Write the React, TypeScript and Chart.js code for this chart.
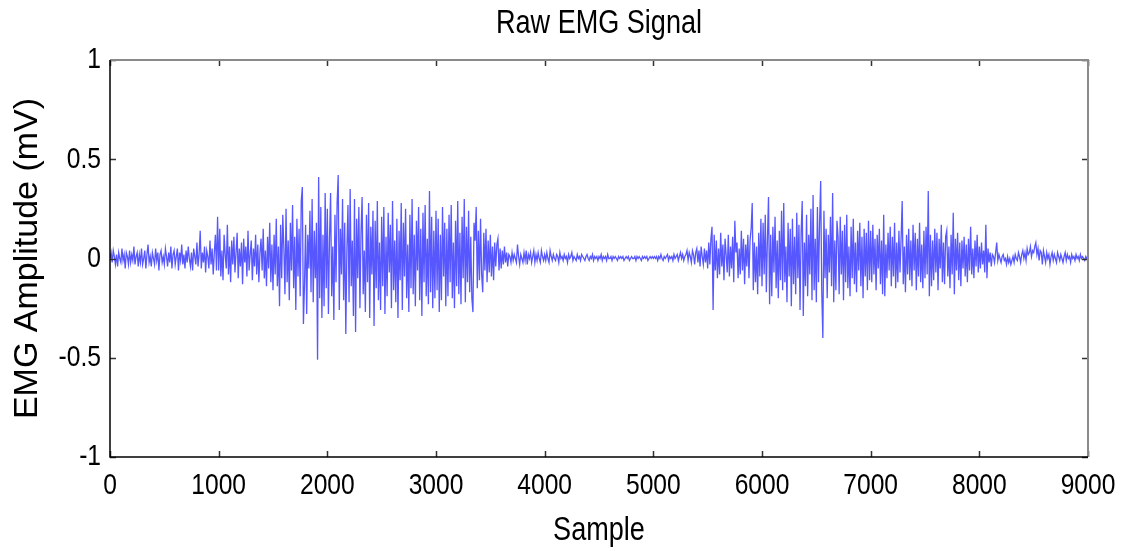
import React, { useEffect, useRef } from "react";
import { Chart, registerables } from "chart.js";

Chart.register(...registerables);

// EMG samples, one value every SAMPLE_STEP samples,
// grouped in blocks of 500 samples.
const SAMPLE_STEP = 10;

const block0000 = [
  0.0, 0.03, -0.02, 0.04, 0.01, -0.03, 0.02, -0.04, 0.03, 0.0,
  -0.02, 0.05, -0.01, 0.02, -0.05, 0.03, 0.01, -0.03, 0.04, -0.02,
  0.02, -0.01, 0.06, -0.03, 0.01, 0.03, -0.04, 0.02, -0.02, 0.05,
  -0.03, 0.0, 0.04, -0.05, 0.02, 0.07, -0.02, 0.01, -0.04, 0.03,
  0.0, -0.03, 0.05, -0.01, 0.03, -0.06, 0.02, 0.04, -0.02, 0.01,
];
const block0500 = [
  -0.03, 0.05, 0.01, -0.04, 0.03, -0.02, 0.06, -0.05, 0.02, 0.04,
  -0.03, 0.01, 0.05, -0.06, 0.03, -0.01, 0.07, -0.03, 0.02, -0.05,
  0.04, -0.02, 0.06, 0.0, -0.04, 0.03, -0.06, 0.05, 0.01, -0.03,
  0.08, -0.04, 0.02, 0.14, -0.05, 0.03, -0.02, 0.06, -0.07, 0.04,
  0.01, -0.05, 0.09, -0.03, 0.05, -0.08, 0.03, 0.12, -0.06, 0.21,
];
const block1000 = [
  -0.06, 0.15, -0.09, 0.04, -0.11, 0.12, 0.02, -0.05, 0.17, -0.08,
  0.06, -0.12, 0.09, -0.03, 0.11, -0.07, 0.03, 0.13, -0.1, 0.05,
  -0.04, 0.08, -0.13, 0.1, -0.02, 0.06, -0.09, 0.14, -0.06, 0.02,
  0.09, -0.11, 0.05, -0.04, 0.12, -0.08, 0.07, -0.12, 0.03, 0.1,
  -0.06, 0.15, -0.1, 0.04, -0.14, 0.11, -0.05, 0.18, -0.12, 0.07,
];
const block1500 = [
  -0.16, 0.12, -0.08, 0.2, -0.14, 0.06, -0.24, 0.17, -0.1, 0.22,
  0.05, -0.18, 0.25, -0.12, 0.09, -0.21, 0.18, -0.06, 0.27, -0.15,
  0.11, -0.26, 0.2, -0.09, 0.15, -0.19, 0.29, 0.36, -0.33, -0.13,
  0.17, -0.28, 0.12, -0.05, 0.24, -0.17, 0.3, -0.22, 0.14, -0.1,
  0.18, -0.51, 0.41, -0.2, 0.26, -0.3, 0.12, -0.24, 0.33, -0.15,
];
const block2000 = [
  0.25, -0.28, 0.1, 0.33, -0.19, 0.06, -0.31, 0.22, -0.12, 0.28,
  0.42, -0.26, 0.15, -0.08, 0.3, -0.21, 0.18, -0.38, 0.05, 0.27,
  -0.22, 0.35, -0.14, 0.09, -0.29, 0.3, -0.37, 0.2, -0.1, 0.26,
  -0.25, 0.13, 0.31, -0.18, 0.04, -0.27, 0.22, -0.12, 0.28, -0.3,
  0.16, -0.08, 0.24, -0.34, 0.19, -0.15, 0.29, -0.21, 0.08, -0.26,
];
const block2500 = [
  0.21, -0.14, 0.26, -0.28, 0.11, -0.19, 0.23, -0.07, 0.17, -0.25,
  0.29, -0.16, 0.09, -0.22, 0.2, -0.3, 0.14, -0.11, 0.28, -0.26,
  0.18, -0.09, 0.25, -0.2, 0.07, -0.27, 0.22, -0.15, 0.3, -0.18,
  0.12, -0.24, 0.19, -0.06, 0.26, -0.21, 0.15, -0.29, 0.23, -0.12,
  0.27, -0.19, 0.1, -0.23, 0.34, -0.17, 0.21, -0.25, 0.14, -0.2,
];
const block3000 = [
  0.24, -0.16, 0.2, -0.27, 0.12, -0.21, 0.26, -0.09, 0.18, -0.24,
  0.15, -0.19, 0.22, -0.12, 0.27, -0.2, 0.08, -0.25, 0.19, -0.14,
  0.29, -0.18, 0.13, -0.23, 0.21, -0.1, 0.3, -0.22, 0.16, -0.12,
  0.24, -0.17, 0.11, -0.2, -0.27, 0.18, 0.09, 0.26, -0.15, 0.14,
  -0.11, 0.2, -0.08, -0.17, 0.13, -0.06, 0.15, -0.12, 0.09, -0.07,
];
const block3500 = [
  0.12, -0.09, 0.06, -0.11, 0.08, -0.04, 0.07, 0.1, -0.06, 0.05,
  -0.05, 0.04, -0.03, 0.06, -0.02, 0.03, -0.04, 0.02, 0.01, -0.02,
  0.03, -0.01, 0.02, 0.0, -0.02, 0.07, 0.01, -0.03, 0.02, 0.0,
  -0.02, 0.03, -0.01, 0.04, -0.03, 0.02, 0.0, 0.03, -0.02, 0.01,
  0.04, -0.02, 0.02, -0.01, 0.03, 0.0, -0.02, 0.04, 0.01, -0.01,
];
const block4000 = [
  0.02, -0.01, 0.03, 0.0, -0.02, 0.04, 0.01, -0.01, 0.02, 0.0,
  -0.01, 0.02, 0.01, -0.02, 0.03, 0.0, 0.01, -0.01, 0.02, 0.0,
  0.01, -0.02, 0.02, 0.0, 0.01, 0.03, -0.01, 0.01, 0.0, -0.01,
  0.02, 0.0, 0.01, -0.01, 0.02, 0.01, 0.0, -0.01, 0.01, 0.02,
  0.0, -0.01, 0.01, 0.0, 0.02, -0.01, 0.01, 0.0, 0.01, -0.01,
];
const block4500 = [
  0.01, 0.0, 0.02, -0.01, 0.01, 0.0, 0.01, -0.01, 0.02, 0.0,
  0.0, 0.01, -0.01, 0.01, 0.0, 0.01, 0.0, -0.01, 0.01, 0.0,
  0.01, 0.0, 0.01, -0.01, 0.0, 0.01, 0.0, 0.01, -0.01, 0.0,
  0.01, 0.0, 0.0, 0.01, -0.01, 0.01, 0.0, 0.01, 0.0, -0.01,
  0.01, 0.0, 0.01, 0.0, 0.01, -0.01, 0.0, 0.01, 0.0, 0.01,
];
const block5000 = [
  0.0, 0.01, 0.0, 0.01, -0.01, 0.01, 0.0, 0.02, 0.0, -0.01,
  0.01, 0.0, 0.01, 0.02, -0.01, 0.01, 0.0, 0.01, -0.01, 0.02,
  0.0, 0.01, 0.02, -0.01, 0.01, 0.03, 0.0, 0.02, -0.01, 0.01,
  0.02, 0.04, -0.01, 0.03, 0.01, -0.02, 0.04, 0.02, -0.03, 0.03,
  0.05, -0.02, 0.04, -0.04, 0.06, 0.01, -0.03, 0.05, -0.02, 0.04,
];
const block5500 = [
  -0.05, 0.08, -0.03, 0.1, 0.16, -0.26, 0.12, -0.06, 0.09, -0.1,
  0.05, -0.08, 0.13, -0.04, 0.07, -0.11, 0.1, 0.02, -0.07, 0.12,
  -0.09, 0.06, -0.05, 0.11, -0.12, 0.19, 0.03, 0.08, -0.1, 0.05,
  -0.08, 0.14, -0.06, 0.1, -0.13, 0.07, -0.04, 0.12, -0.1, 0.09,
  0.15, 0.28, -0.16, 0.08, -0.12, 0.06, -0.18, 0.13, -0.09, 0.2,
];
const block6000 = [
  -0.14, 0.18, -0.08, 0.22, -0.17, 0.1, 0.31, -0.23, 0.12, -0.19,
  0.16, -0.07, 0.21, -0.15, 0.09, -0.2, 0.14, -0.11, 0.24, -0.16,
  0.28, -0.12, 0.06, -0.22, 0.18, -0.09, 0.15, -0.24, 0.2, -0.13,
  0.11, -0.18, 0.23, -0.1, 0.17, -0.26, 0.13, 0.29, -0.29, 0.08,
  -0.14, 0.22, -0.19, 0.12, -0.08, 0.25, -0.21, 0.32, -0.16, 0.1,
];
const block6500 = [
  -0.22, 0.26, -0.12, 0.18, 0.39, -0.17, -0.4, 0.24, -0.1, 0.15,
  -0.2, 0.12, -0.07, 0.21, -0.14, 0.33, -0.22, 0.09, -0.16, 0.19,
  0.11, -0.18, 0.21, -0.08, 0.14, -0.21, 0.17, -0.12, 0.22, -0.15,
  0.06, -0.19, 0.16, -0.1, 0.2, -0.13, 0.08, -0.17, 0.14, -0.06,
  0.18, -0.14, 0.11, -0.2, 0.15, -0.09, 0.13, -0.16, 0.19, -0.11,
];
const block7000 = [
  0.14, -0.12, 0.17, -0.08, 0.1, -0.16, 0.12, -0.05, 0.15, -0.13,
  0.09, -0.18, 0.22, -0.19, 0.07, -0.1, 0.13, -0.06, 0.16, -0.14,
  0.11, -0.09, 0.18, -0.15, 0.08, -0.12, 0.14, -0.07, 0.1, 0.29,
  -0.13, 0.06, -0.17, 0.12, -0.08, 0.15, -0.11, 0.09, -0.14, 0.17,
  -0.06, 0.13, -0.16, 0.1, -0.09, 0.18, -0.12, 0.07, -0.15, 0.14,
];
const block7500 = [
  -0.1, 0.16, -0.08, 0.34, -0.19, 0.12, -0.14, 0.09, -0.11, 0.15,
  -0.07, 0.13, -0.16, 0.1, -0.05, 0.17, -0.12, 0.08, -0.13, 0.11,
  0.14, -0.09, 0.06, -0.15, 0.12, -0.08, 0.23, -0.18, 0.1, -0.06,
  0.13, -0.11, 0.08, -0.14, 0.09, -0.05, 0.11, -0.09, 0.07, -0.12,
  0.1, -0.06, 0.16, -0.08, 0.05, -0.1, 0.09, -0.04, 0.12, -0.07,
];
const block8000 = [
  0.06, -0.05, 0.08, -0.03, 0.04, -0.07, 0.17, -0.1, 0.05, -0.02,
  0.03, -0.04, 0.02, 0.01, -0.02, 0.03, 0.08, -0.01, 0.02, 0.0,
  -0.02, 0.01, 0.02, -0.01, 0.0, -0.03, 0.01, -0.02, 0.0, -0.03,
  -0.01, 0.01, -0.02, 0.02, 0.0, -0.01, 0.03, 0.01, -0.02, 0.02,
  0.04, 0.0, 0.03, -0.01, 0.05, 0.02, 0.03, 0.06, 0.01, 0.04,
];
const block8500 = [
  0.03, 0.06, 0.08, 0.02, 0.05, -0.01, 0.04, 0.03, -0.03, 0.04,
  0.01, -0.02, 0.03, 0.0, 0.02, -0.03, 0.01, 0.03, -0.01, 0.02,
  0.0, -0.02, 0.03, 0.01, -0.01, 0.02, 0.0, -0.02, 0.01, 0.03,
  -0.01, 0.02, 0.0, 0.01, -0.02, 0.02, 0.0, 0.01, -0.01, 0.02,
  0.0, 0.01, -0.01, 0.02, 0.0, 0.01, 0.0, -0.01, 0.01, 0.0,
];
const block9000 = [0.0];

const X_TICKS = [0, 1000, 2000, 3000, 4000, 5000, 6000, 7000, 8000, 9000];
const Y_TICKS = [-1, -0.5, 0, 0.5, 1];

const TITLE = "Raw EMG Signal";
const X_LABEL = "Sample";
const Y_LABEL = "EMG Amplitude (mV)";

const signal = [
  ...block0000, ...block0500, ...block1000, ...block1500, ...block2000,
  ...block2500, ...block3000, ...block3500, ...block4000, ...block4500,
  ...block5000, ...block5500, ...block6000, ...block6500, ...block7000,
  ...block7500, ...block8000, ...block8500, ...block9000,
];

const FONT = '"Liberation Sans", Arial, Helvetica, sans-serif';
const CONDENSE = 0.82;

// The reference uses a condensed Helvetica; squeeze horizontal text a little
// (rotated text such as the y-axis title is left alone).
const condensePlugin = {
  id: "condenseText",
  beforeDraw(chart: any) {
    const ctx: any = chart.ctx;
    if (ctx.__condensed) return;
    ctx.__condensed = true;
    const orig = ctx.fillText.bind(ctx);
    ctx.fillText = (text: string, x: number, y: number, maxWidth?: number) => {
      const t = ctx.getTransform();
      if (Math.abs(t.b) > 1e-6) {
        if (maxWidth === undefined) orig(text, x, y);
        else orig(text, x, y, maxWidth);
        return;
      }
      const w = ctx.measureText(text).width * CONDENSE;
      orig(text, x, y, maxWidth === undefined ? w : Math.min(w, maxWidth));
    };
  },
};

const boxPlugin = {
  id: "matlabBox",
  afterDatasetsDraw(chart: any) {
    const { ctx, chartArea, scales } = chart;
    const { left, right, top, bottom } = chartArea;
    const x = scales.x;
    const y = scales.y;
    ctx.save();
    const L = 6;
    ctx.strokeStyle = "#333";
    ctx.lineWidth = 1.5;
    for (const v of X_TICKS) {
      const px = Math.round(x.getPixelForValue(v)) + 0.5;
      ctx.beginPath();
      ctx.moveTo(px, bottom);
      ctx.lineTo(px, bottom - L);
      ctx.moveTo(px, top);
      ctx.lineTo(px, top + L);
      ctx.stroke();
    }
    for (const v of Y_TICKS) {
      const py = Math.round(y.getPixelForValue(v)) + 0.5;
      ctx.beginPath();
      ctx.moveTo(left, py);
      ctx.lineTo(left + L, py);
      ctx.moveTo(right, py);
      ctx.lineTo(right - L, py);
      ctx.stroke();
    }
    ctx.strokeStyle = "#8a8a8a";
    ctx.lineWidth = 2;
    ctx.beginPath();
    ctx.moveTo(left, top);
    ctx.lineTo(right, top);
    ctx.lineTo(right, bottom);
    ctx.stroke();
    ctx.strokeStyle = "#000";
    ctx.lineWidth = 1.5;
    ctx.beginPath();
    ctx.moveTo(left, top);
    ctx.lineTo(left, bottom);
    ctx.lineTo(right, bottom);
    ctx.stroke();
    ctx.restore();
  },
};

export default function App() {
  const canvasRef = useRef<HTMLCanvasElement | null>(null);

  useEffect(() => {
    const canvas = canvasRef.current;
    if (!canvas) return;
    const points = signal.map((v, i) => ({ x: i * SAMPLE_STEP, y: v }));
    const chart = new Chart(canvas, {
      type: "line",
      data: {
        datasets: [
          {
            data: points,
            borderColor: "rgba(0,0,255,0.66)",
            borderWidth: 1.3,
            pointRadius: 0,
            fill: false,
            tension: 0,
          },
        ],
      },
      options: {
        animation: false,
        responsive: false,
        devicePixelRatio: 1,
        layout: { padding: { left: 0, right: 45, top: 0, bottom: 0 } },
        plugins: {
          legend: { display: false },
          tooltip: { enabled: false },
          title: {
            display: true,
            fullSize: false,
            text: TITLE,
            color: "#000",
            font: { family: FONT, size: 33, weight: "normal" },
            padding: { top: 4, bottom: 16.4 },
          },
        },
        scales: {
          x: {
            type: "linear",
            min: 0,
            max: 9000,
            afterBuildTicks: (s: any) => {
              s.ticks = X_TICKS.map((v) => ({ value: v }));
            },
            afterFit: (s: any) => {
              s.height = 94;
            },
            grid: { display: false, drawTicks: false },
            border: { display: false },
            ticks: {
              color: "#000",
              font: { family: FONT, size: 30 },
              padding: 11,
              maxRotation: 0,
              autoSkip: false,
              callback: (v: any) => String(v),
            },
            title: {
              display: true,
              text: X_LABEL,
              color: "#000",
              font: { family: FONT, size: 33 },
              padding: { top: 0, bottom: 0 },
            },
          },
          y: {
            type: "linear",
            min: -1,
            max: 1,
            afterBuildTicks: (s: any) => {
              s.ticks = Y_TICKS.map((v) => ({ value: v }));
            },
            afterFit: (s: any) => {
              s.width = 110;
            },
            grid: { display: false, drawTicks: false },
            border: { display: false },
            ticks: {
              color: "#000",
              font: { family: FONT, size: 30 },
              padding: 9,
              callback: (v: any) => String(v),
            },
            title: {
              display: true,
              text: Y_LABEL,
              color: "#000",
              font: { family: FONT, size: 34 },
              padding: { top: 7, bottom: 0 },
            },
          },
        },
      },
      plugins: [condensePlugin, boxPlugin],
    });
    return () => chart.destroy();
  }, []);

  return (
    <div style={{ position: "fixed", left: 0, top: 0, width: 1133, height: 551, background: "#fff" }}>
      <canvas ref={canvasRef} width={1133} height={551} style={{ display: "block", width: 1133, height: 551 }} />
    </div>
  );
}
